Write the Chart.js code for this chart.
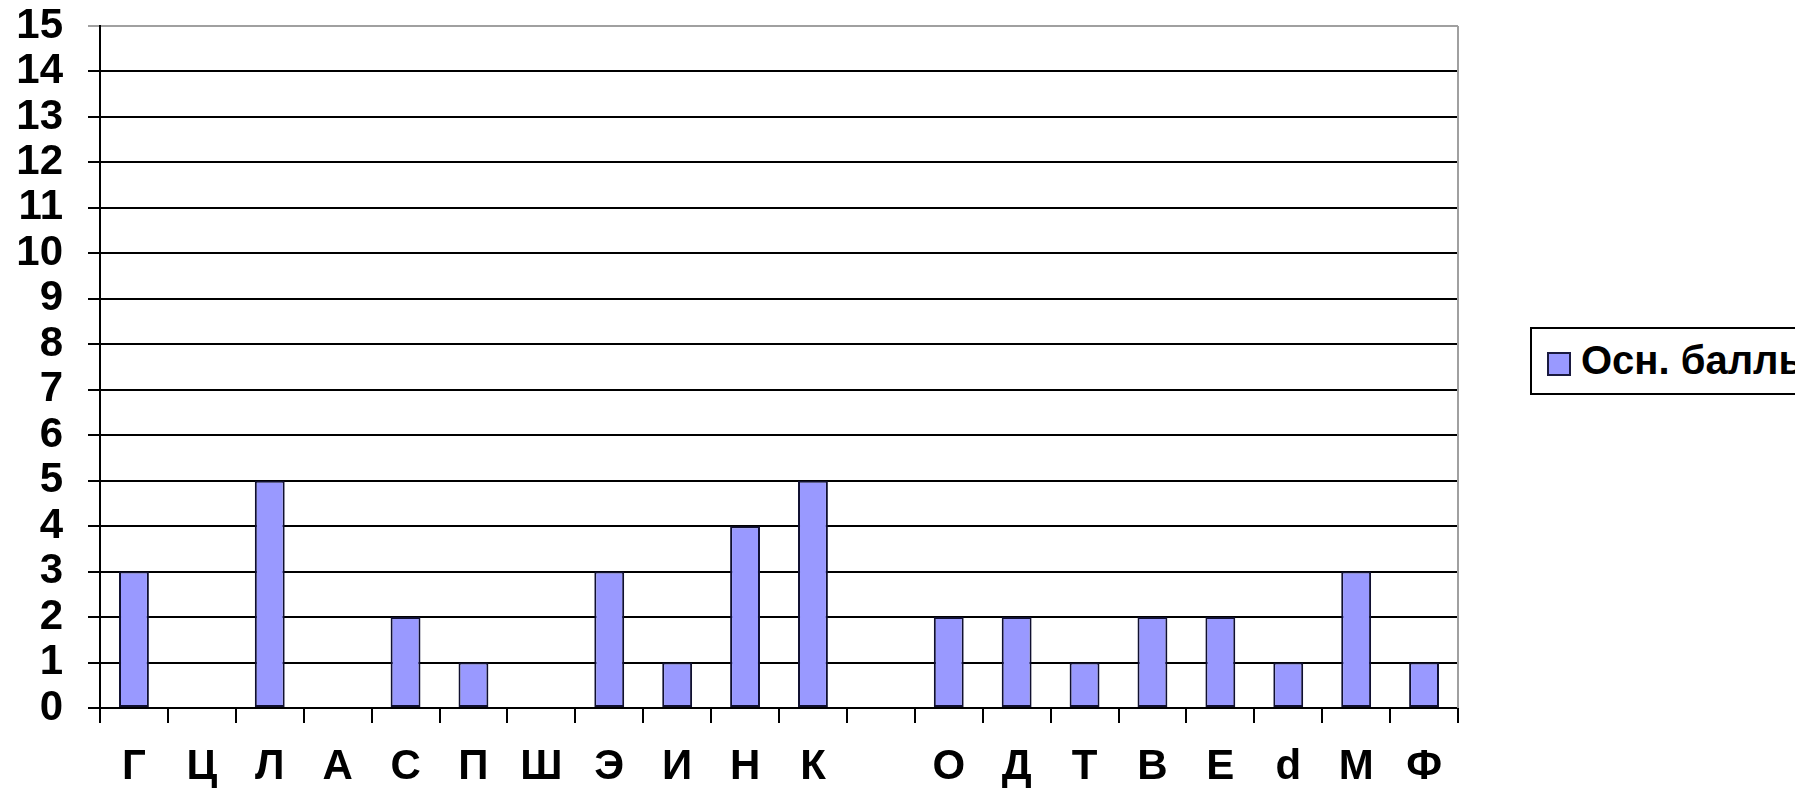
<!DOCTYPE html>
<html>
<head>
<meta charset="utf-8">
<script src="https://cdn.jsdelivr.net/npm/chart.js@4.4.0/dist/chart.umd.min.js"></script>
<style>
  html, body { margin: 0; padding: 0; background: #fff; overflow: hidden; }
  #wrap { position: relative; width: 1795px; height: 798px; overflow: hidden; }
  #legend {
    position: absolute; left: 1530px; top: 327px; width: 320px; height: 68px;
    border: 2px solid #000; background: #fff; box-sizing: border-box;
    font: bold 40px "Liberation Sans", Arial, sans-serif; color: #000;
    white-space: nowrap;
  }
  #legend .box {
    position: absolute; left: 15px; top: 23px; width: 20px; height: 20px;
    border: 2px solid #1a1a40;
  }
  #legend .txt { position: absolute; left: 49px; top: 9px; }
</style>
</head>
<body>
<div id="wrap">
  <canvas id="chart" width="1795" height="798"></canvas>
  <div id="legend"></div>
</div>
<script>
// categories (one slot is empty in the original)
const categories = ["Г", "Ц", "Л", "А", "С", "П", "Ш", "Э", "И", "Н", "К", "", "О", "Д", "Т", "В", "Е", "d", "М", "Ф"];
const scores = [3, 0, 5, 0, 2, 1, 0, 3, 1, 4, 5, 0, 2, 2, 1, 2, 2, 1, 3, 1];
const seriesLabel = "Осн. баллы";
const yMin = 0, yMax = 15;

const barFill = "#9999ff";
const barEdge = "#101030";
const tickFont = { family: "'Liberation Sans', Arial, sans-serif", size: 42, weight: "bold" };

// grey frame on the right side of the plot
const frame = {
  id: "frame",
  afterDraw(chart) {
    let a = chart.chartArea, c = chart.ctx;
    c.save();
    c.strokeStyle = "#a0a0a0";
    c.lineWidth = 2;
    c.beginPath();
    c.moveTo(a.right, a.top);
    c.lineTo(a.right, a.bottom);
    c.stroke();
    c.restore();
  }
};

let ctx = document.getElementById("chart").getContext("2d");
let chart = new Chart(ctx, {
  type: "bar",
  data: {
    labels: categories,
    datasets: [{
      label: seriesLabel,
      data: scores,
      backgroundColor: barFill,
      borderColor: barEdge,
      borderWidth: 2,
      borderSkipped: false,
      categoryPercentage: 1,
      barPercentage: 0.44
    }]
  },
  options: {
    responsive: false,
    animation: false,
    devicePixelRatio: 1,
    layout: { padding: { top: 26, right: 337, left: 0, bottom: 0 } },
    plugins: { legend: { display: false }, tooltip: { enabled: false } },
    scales: {
      x: {
        grid: { offset: true, drawOnChartArea: false, tickLength: 15, color: "#000", lineWidth: 2 },
        border: { color: "#000", width: 2 },
        ticks: { color: "#000", font: tickFont, padding: 19, maxRotation: 0, autoSkip: false },
        afterFit(scale) {
          scale.height = 90;
          scale.paddingLeft = 0;
          scale.paddingRight = 0;
        }
      },
      y: {
        min: yMin,
        max: yMax,
        grid: {
          tickLength: 12,
          lineWidth: 2,
          color: (c) => (c.tick && c.tick.value === yMax ? "#a0a0a0" : "#000")
        },
        border: { color: "#000", width: 2 },
        ticks: { stepSize: 1, autoSkip: false, color: "#000", font: tickFont, padding: 25 },
        afterFit(scale) {
          scale.width = 100;
          scale.paddingTop = 0;
          scale.paddingBottom = 0;
        }
      }
    }
  },
  plugins: [frame]
});

// legend built from the dataset
let legend = document.getElementById("legend");
chart.data.datasets.forEach(function (ds) {
  let box = document.createElement("div");
  box.className = "box";
  box.style.background = ds.backgroundColor;
  let txt = document.createElement("div");
  txt.className = "txt";
  txt.textContent = ds.label;
  legend.appendChild(box);
  legend.appendChild(txt);
});
</script>
</body>
</html>
